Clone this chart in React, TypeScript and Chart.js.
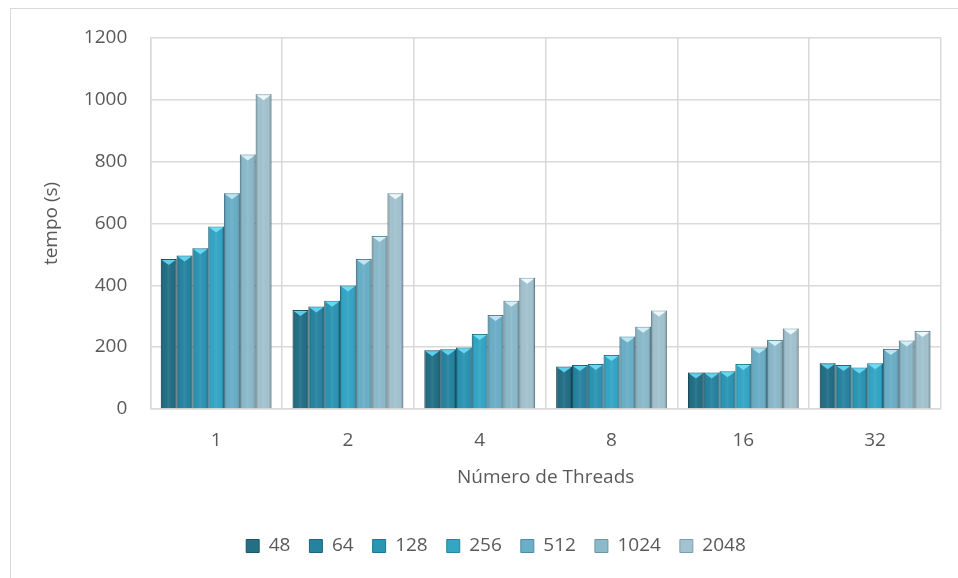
import React, { useEffect, useRef } from 'react';
import { Chart, registerables } from 'chart.js';
Chart.register(...registerables);

const categories = ['1', '2', '4', '8', '16', '32'];
const seriesLabels = ['48', '64', '128', '256', '512', '1024', '2048'];
const s48 = [485, 320, 190, 137, 118, 148];
const s64 = [496, 331, 193, 142, 118, 142];
const s128 = [520, 350, 199, 145, 122, 134];
const s256 = [590, 399, 242, 174, 145, 148];
const s512 = [698, 485, 304, 234, 199, 194];
const s1024 = [823, 559, 350, 266, 223, 221];
const s2048 = [1018, 698, 424, 318, 260, 252];
const seriesValues = [s48, s64, s128, s256, s512, s1024, s2048];
const yTicks = [0, 200, 400, 600, 800, 1000, 1200];

const fills = ['#226f86', '#2683a0', '#2b95b4', '#33a6c6', '#6aafc8', '#8cbacb', '#a3c3d0'];
const borders = ['#1a5668', '#1e6680', '#217590', '#27829c', '#4f8aa0', '#6a95a5', '#7c9eab'];
const tops = ['#5ccfea', '#5fd3ee', '#63d8f2', '#6ddcf4', '#b8e6f2', '#d6eef5', '#eef7fa'];

const bevelPlugin = {
  id: 'bevel',
  afterDatasetsDraw(chart: any) {
    const ctx = chart.ctx;
    chart.data.datasets.forEach((_ds: any, i: number) => {
      const meta = chart.getDatasetMeta(i);
      meta.data.forEach((bar: any) => {
        const { x, y, base, width } = bar.getProps(['x', 'y', 'base', 'width'], true);
        const l = x - width / 2;
        const r = x + width / 2;
        const g = ctx.createLinearGradient(l, 0, r, 0);
        g.addColorStop(0, 'rgba(0,0,0,0.22)');
        g.addColorStop(0.18, 'rgba(0,0,0,0)');
        g.addColorStop(0.5, 'rgba(255,255,255,0.07)');
        g.addColorStop(0.82, 'rgba(0,0,0,0)');
        g.addColorStop(1, 'rgba(0,0,0,0.28)');
        ctx.save();
        ctx.fillStyle = g;
        ctx.fillRect(l, y, width, base - y);
        ctx.fillStyle = tops[i];
        ctx.beginPath();
        ctx.moveTo(l + 1, y + 1);
        ctx.lineTo(r - 1, y + 1);
        ctx.lineTo(x, y + 6);
        ctx.closePath();
        ctx.fill();
        ctx.restore();
      });
    });
  },
};

const legendShiftPlugin = {
  id: 'legendShift',
  afterLayout(chart: any) {
    if (chart.legend) {
      chart.legend.left += 15.5;
      chart.legend.right += 15.5;
    }
  },
};

export default function App() {
  const ref = useRef<HTMLCanvasElement>(null);
  useEffect(() => {
    document.body.style.margin = '0';
    const font = { family: '"Open Sans", Lato, sans-serif', size: 19 };
    const chart = new Chart(ref.current as HTMLCanvasElement, {
      type: 'bar',
      data: {
        labels: categories,
        datasets: seriesLabels.map((lab, i) => ({
          label: lab,
          data: seriesValues[i],
          backgroundColor: fills[i],
          borderColor: borders[i],
          borderWidth: 1,
          categoryPercentage: 0.84,
          barPercentage: 1.0,
        })),
      },
      options: {
        responsive: false,
        animation: false,
        devicePixelRatio: 1,
        layout: { padding: { left: 20, right: 17, top: 38, bottom: 12.5 } },
        plugins: {
          legend: {
            position: 'bottom',
            labels: { color: '#595959', font, boxWidth: 13, boxHeight: 13, padding: 19 },
          },
          tooltip: { enabled: false },
        },
        scales: {
          x: {
            grid: { color: '#d9d9d9', lineWidth: 1.5, drawTicks: false, offset: true },
            border: { color: '#d9d9d9', width: 1.5 },
            ticks: { color: '#595959', font, padding: 20 },
            title: {
              display: true,
              text: 'Número de Threads',
              color: '#595959',
              font,
              padding: { top: -6, bottom: 29 },
            },
          },
          y: {
            min: 0,
            max: 1200,
            afterBuildTicks: (axis: any) => {
              axis.ticks = yTicks.map((v) => ({ value: v }));
            },
            grid: { color: '#d9d9d9', lineWidth: 1.5, drawTicks: false },
            border: { color: '#d9d9d9', width: 1.5 },
            ticks: { color: '#595959', font, padding: 23, callback: (v: any) => String(v) },
            title: {
              display: true,
              text: 'tempo (s)',
              color: '#595959',
              font,
              padding: { top: 20, bottom: -2 },
            },
          },
        },
      },
      plugins: [bevelPlugin, legendShiftPlugin],
    } as any);
    return () => chart.destroy();
  }, []);
  return (
    <div style={{ position: 'relative', width: 958, height: 578, background: '#fff' }}>
      <div
        style={{
          position: 'absolute',
          left: 10,
          top: 8,
          right: 0,
          bottom: 0,
          borderLeft: '1px solid #d9d9d9',
          borderTop: '1px solid #d9d9d9',
        }}
      />
      <canvas ref={ref} width={958} height={578} style={{ position: 'absolute', left: 0, top: 0 }} />
    </div>
  );
}
